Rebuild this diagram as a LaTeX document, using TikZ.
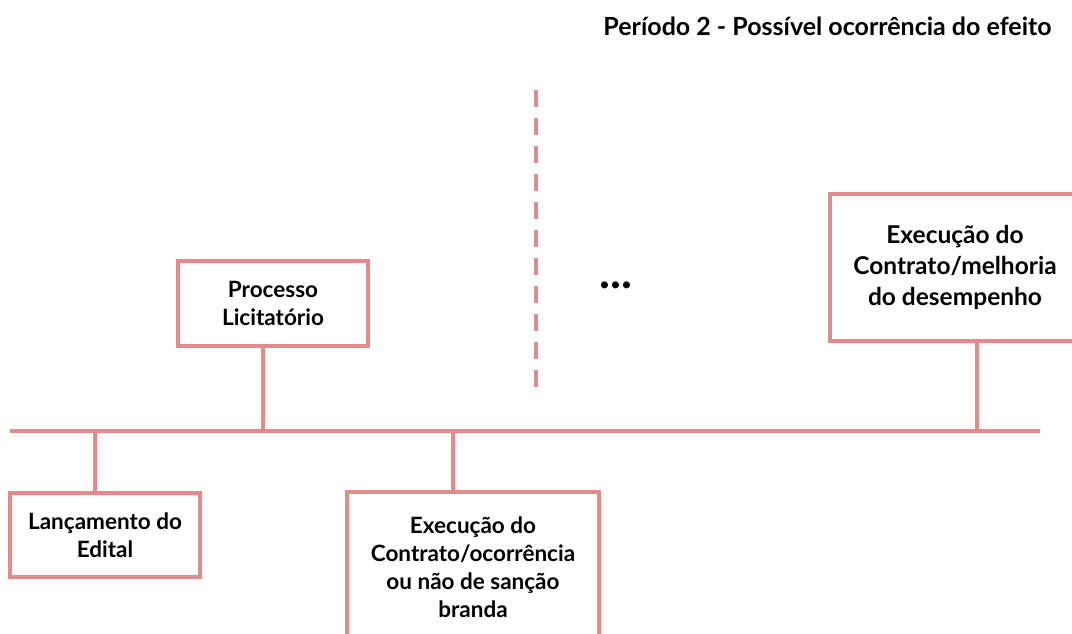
\documentclass[tikz,border=0pt]{standalone}
\usepackage{fontspec}
\setmainfont{Lato}
\definecolor{rosa}{RGB}{226,139,140}
\begin{document}
\begin{tikzpicture}[x=1pt,y=-1pt,
  box/.style={draw=rosa, line width=4pt, fill=white, align=center, inner sep=0pt,
    font=\bfseries\fontsize{22.5}{28}\selectfont},
  conn/.style={draw=rosa, line width=4pt}]
\useasboundingbox (0,0) rectangle (1072,634);
\node[anchor=east, font=\bfseries\fontsize{25}{28}\selectfont] (title) at (1055,26) {Período 2 - Possível ocorrência do efeito};
\coordinate (L) at (10,431);
\coordinate (R) at (1040,431);
\draw[conn] (L) -- (R);
\node[box, minimum width=190pt, minimum height=84pt] (A) at (105,535) {Lançamento do\\Edital};
\node[box, minimum width=190pt, minimum height=85pt] (B) at (273,303.5) {Processo\\Licitatório};
\node[box, minimum width=252pt, minimum height=150pt] (C) at (473,567) {Execução do\\Contrato/ocorrência\\ou não de sanção\\branda};
\node[box, minimum width=250pt, minimum height=147pt, font=\bfseries\fontsize{24.5}{31}\selectfont] (D) at (955,267.5) {Execução do\\Contrato/melhoria\\do desempenho};
\draw[conn] ([xshift=-10pt]A.north) -- ([xshift=-10pt]A.north |- L);
\draw[conn] ([xshift=-10pt]B.south) -- ([xshift=-10pt]B.south |- L);
\draw[conn] ([xshift=-20pt]C.north) -- ([xshift=-20pt]C.north |- L);
\draw[conn] ([xshift=22pt]D.south) -- ([xshift=22pt]D.south |- L);
\coordinate (dt) at (536,90);
\coordinate (db) at (536,388);
\draw[conn, dash pattern=on 17pt off 11pt] (dt) -- (db);
\node[font=\bfseries\fontsize{46}{50}\selectfont] (dots) at (616,285) {...};
\end{tikzpicture}
\end{document}
